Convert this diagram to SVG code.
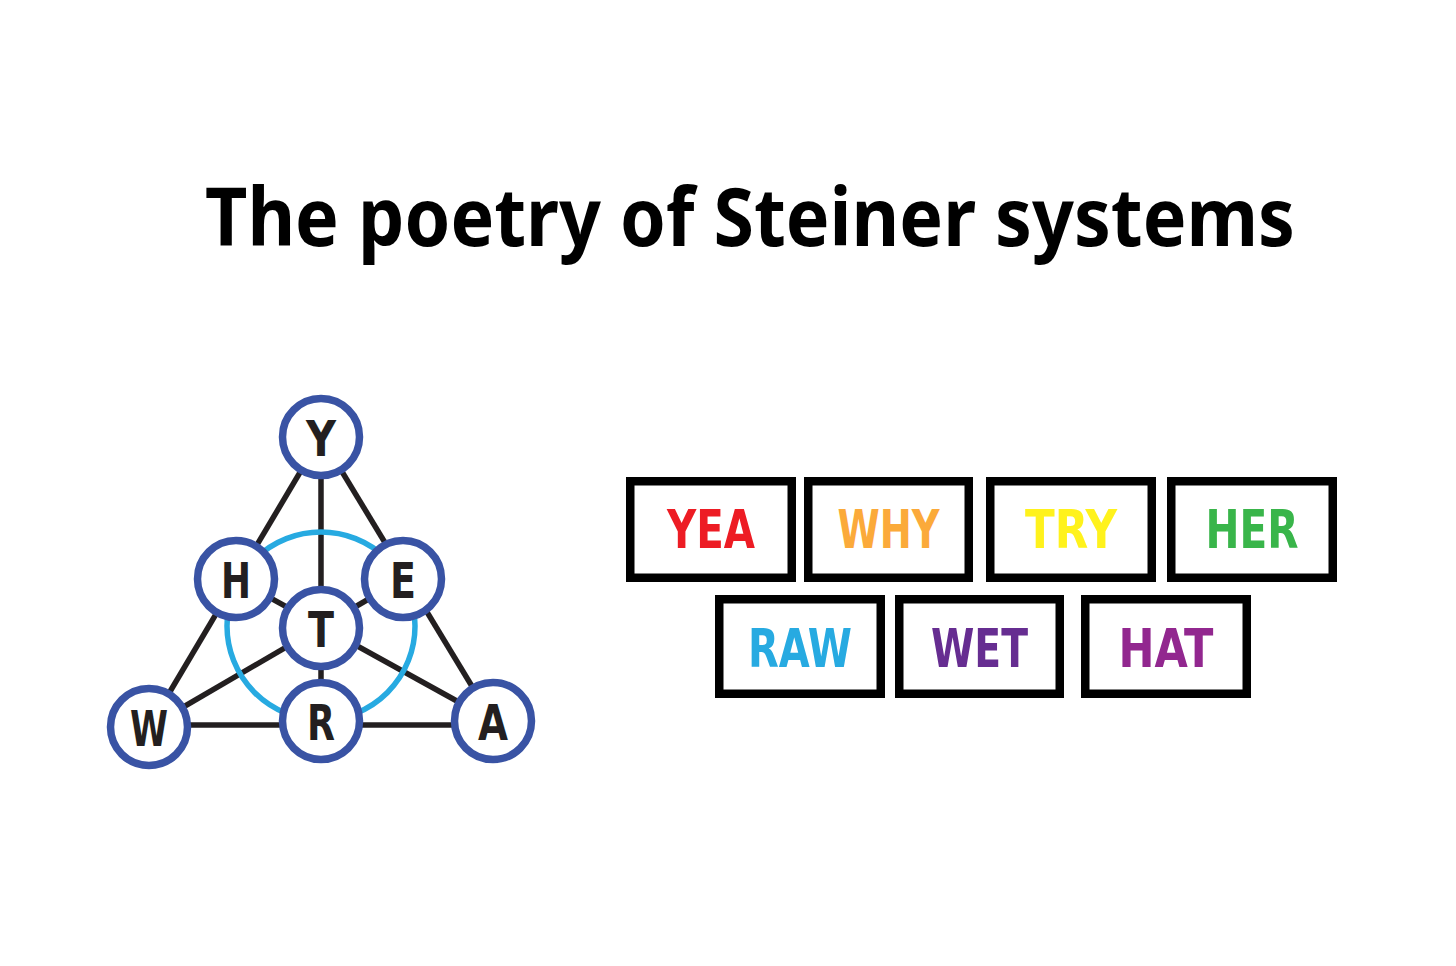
<svg xmlns="http://www.w3.org/2000/svg" width="1456" height="966" viewBox="0 0 1456 966">
<style>
.title{font-family:"Noto Sans","Open Sans","DejaVu Sans",sans-serif;font-weight:bold;font-size:80px;fill:#000}
.edge{stroke:#231F20;stroke-width:5.5;fill:none;stroke-linecap:butt}
.ring{stroke:#27AAE1;stroke-width:5.5;fill:none}
.node circle{fill:#fff;stroke:#3953A4;stroke-width:7.5}
.node text{font-family:"DejaVu Sans Condensed","DejaVu Sans",sans-serif;font-stretch:condensed;font-weight:bold;font-size:50px;fill:#231F20;text-anchor:middle}
.box rect{fill:#fff;stroke:#000;stroke-width:8.5}
.box text{font-family:"DejaVu Sans Condensed","DejaVu Sans",sans-serif;font-stretch:condensed;font-weight:bold;font-size:54px;text-anchor:middle}
</style>
<rect width="1456" height="966" fill="#fff"/>
<text class="title" x="205" y="246" textLength="1090" lengthAdjust="spacingAndGlyphs">The poetry of Steiner systems</text>

<g id="connectors">
<line class="edge" x1="321" y1="437" x2="149" y2="727"/>
<line class="edge" x1="321" y1="437" x2="493" y2="721"/>
<line class="edge" x1="149" y1="725" x2="493" y2="725"/>
<line class="edge" x1="321" y1="437" x2="321" y2="721"/>
<line class="edge" x1="149" y1="727" x2="403" y2="579"/>
<line class="edge" x1="493" y1="721" x2="236" y2="579"/>
<circle class="ring" cx="321" cy="626" r="94"/>
</g>

<g id="node-Y" class="node"><circle cx="321" cy="437" r="38.5"/><text x="321" y="456" textLength="30" lengthAdjust="spacingAndGlyphs">Y</text></g>
<g id="node-H" class="node"><circle cx="236" cy="579" r="38.5"/><text x="236" y="598" textLength="30" lengthAdjust="spacingAndGlyphs">H</text></g>
<g id="node-E" class="node"><circle cx="403" cy="579" r="38.5"/><text x="403" y="598" textLength="26" lengthAdjust="spacingAndGlyphs">E</text></g>
<g id="node-T" class="node"><circle cx="321" cy="628" r="38.5"/><text x="321" y="647" textLength="26" lengthAdjust="spacingAndGlyphs">T</text></g>
<g id="node-W" class="node"><circle cx="149" cy="727" r="38.5"/><text x="149" y="746" textLength="38" lengthAdjust="spacingAndGlyphs">W</text></g>
<g id="node-R" class="node"><circle cx="321" cy="721" r="38.5"/><text x="321" y="740" textLength="28" lengthAdjust="spacingAndGlyphs">R</text></g>
<g id="node-A" class="node"><circle cx="493" cy="721" r="38.5"/><text x="493" y="740" textLength="30" lengthAdjust="spacingAndGlyphs">A</text></g>

<g id="box-YEA" class="box"><rect x="630.25" y="481.25" width="161.5" height="96.5"/><text x="711" y="548" fill="#ED1C24" textLength="88" lengthAdjust="spacingAndGlyphs">YEA</text></g>
<g id="box-WHY" class="box"><rect x="808.25" y="481.25" width="160.5" height="96.5"/><text x="888.5" y="548" fill="#FBAA3A" textLength="102" lengthAdjust="spacingAndGlyphs">WHY</text></g>
<g id="box-TRY" class="box"><rect x="990.25" y="481.25" width="161.5" height="96.5"/><text x="1071" y="548" fill="#FFF21C" textLength="92" lengthAdjust="spacingAndGlyphs">TRY</text></g>
<g id="box-HER" class="box"><rect x="1171.25" y="481.25" width="161.5" height="96.5"/><text x="1252" y="548" fill="#39B54A" textLength="93" lengthAdjust="spacingAndGlyphs">HER</text></g>
<g id="box-RAW" class="box"><rect x="719.25" y="599.25" width="161.5" height="94.5"/><text x="800" y="667" fill="#27AAE1" textLength="104" lengthAdjust="spacingAndGlyphs">RAW</text></g>
<g id="box-WET" class="box"><rect x="899.25" y="599.25" width="160.5" height="94.5"/><text x="979.5" y="667" fill="#662D91" textLength="97" lengthAdjust="spacingAndGlyphs">WET</text></g>
<g id="box-HAT" class="box"><rect x="1085.25" y="599.25" width="161.5" height="94.5"/><text x="1166" y="667" fill="#92278F" textLength="95" lengthAdjust="spacingAndGlyphs">HAT</text></g>
</svg>
